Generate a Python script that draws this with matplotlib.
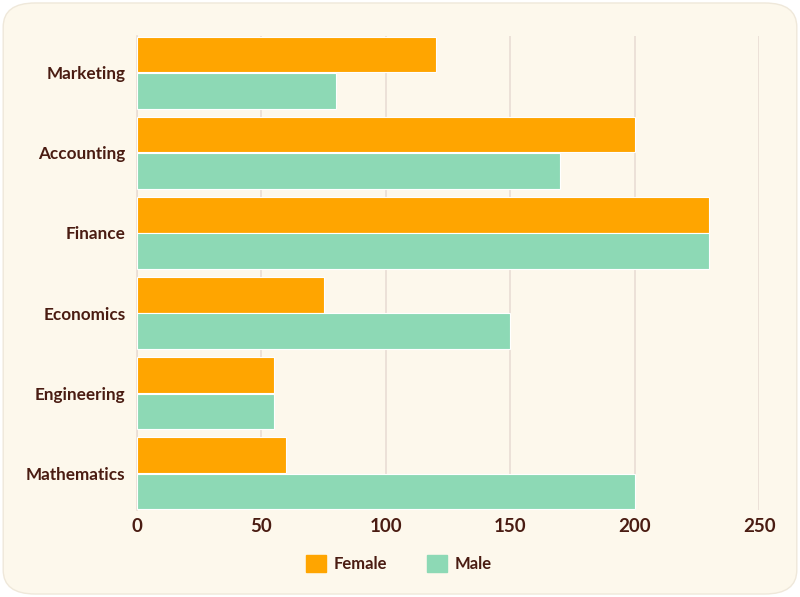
import matplotlib
matplotlib.use("Agg")
import matplotlib.pyplot as plt
from matplotlib.patches import FancyBboxPatch, Rectangle
import numpy as np

categories = ["Marketing", "Accounting", "Finance", "Economics", "Engineering", "Mathematics"]
female = [120, 200, 230, 75, 55, 60]
male = [80, 170, 230, 150, 55, 200]
xticks = [0, 50, 100, 150, 200, 250]

BG = "#FDF8EC"
TXT = "#4A1C12"
ORANGE = "#FFA500"
GREEN = "#8DD9B5"

plt.rcParams['font.family'] = ['Lato', 'DejaVu Sans']

fig = plt.figure(figsize=(8, 5.97), dpi=100)
fig.patch.set_facecolor("white")
bg = FancyBboxPatch((0.004, 0.005), 0.992, 0.99, boxstyle="round,pad=0,rounding_size=0.04",
                    transform=fig.transFigure, facecolor=BG, edgecolor="#EFE8DA", lw=1, zorder=-10)
fig.patches.append(bg)

ax = fig.add_axes([0.171, 0.1457, 0.778, 0.794])
ax.set_facecolor("none")

y = np.arange(len(categories))
h = 0.445
ax.barh(y - 0.228, female, height=h, color=ORANGE, edgecolor="white", linewidth=0.8, label="Female", zorder=3)
ax.barh(y + 0.228, male, height=h, color=GREEN, edgecolor="white", linewidth=0.8, label="Male", zorder=3)

ax.set_ylim(len(categories) - 0.54, -0.46)
ax.set_xlim(0, 250)
ax.set_yticks(y)
ax.set_yticklabels(categories)
ax.set_xticks(xticks)
ax.set_xticklabels([str(t) for t in xticks])
for lab in ax.get_yticklabels():
    lab.set_fontweight("bold")
    lab.set_fontsize(12.3)
    lab.set_color(TXT)
for lab in ax.get_xticklabels():
    lab.set_fontweight("bold")
    lab.set_fontsize(13.5)
    lab.set_color(TXT)
ax.tick_params(axis="both", length=0)
ax.tick_params(axis="y", pad=8)
ax.tick_params(axis="x", pad=6)
ax.grid(axis="x", color="#E9DDD4", linewidth=1.2, zorder=0)
ax.grid(axis="y", visible=False)
for s in ["top", "right", "bottom"]:
    ax.spines[s].set_visible(False)
ax.spines["left"].set_color("#E9DDD4")
ax.spines["left"].set_linewidth(1.2)

leg = fig.legend(handles=[Rectangle((0, 0), 1, 1, color=ORANGE), Rectangle((0, 0), 1, 1, color=GREEN)],
                 labels=["Female", "Male"], loc="center", bbox_to_anchor=(0.499, 0.056), ncol=2,
                 frameon=False, handlelength=1.15, handleheight=1.15, handletextpad=0.5, columnspacing=2.4,
                 prop={"family": "Lato", "weight": "bold", "size": 12})
for t in leg.get_texts():
    t.set_color(TXT)

fig.savefig("out.png", dpi=100, facecolor=fig.get_facecolor())
